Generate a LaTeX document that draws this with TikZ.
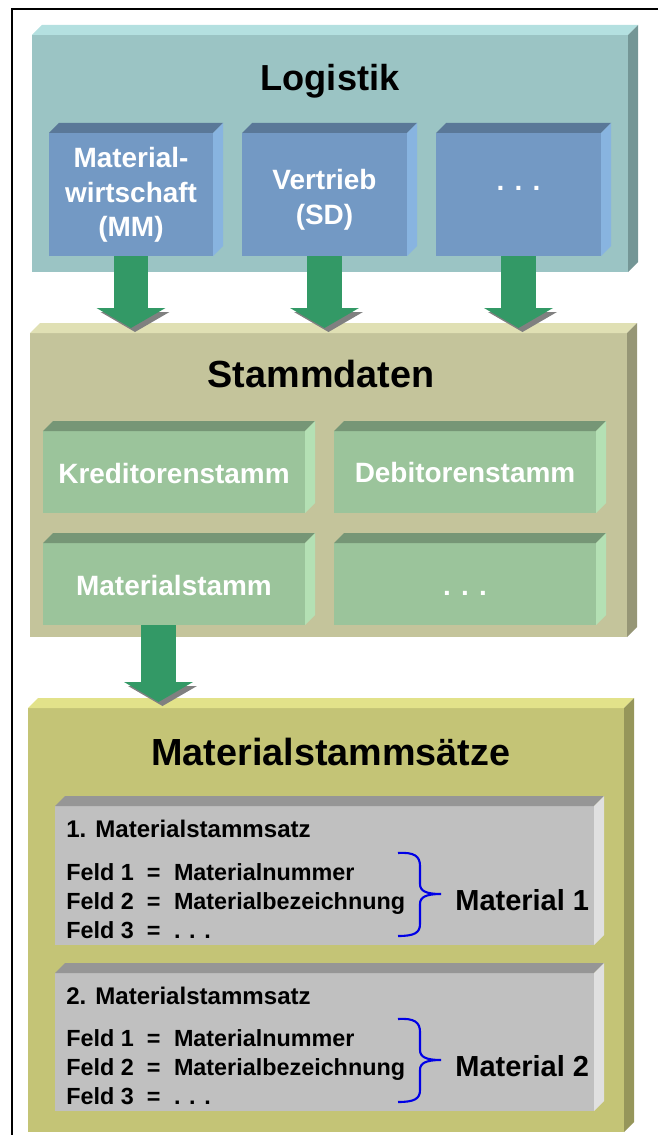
\documentclass[tikz,border=0pt]{standalone}
\usepackage{fontspec}
\setmainfont{Liberation Sans}
\usepackage{tikz}
\usetikzlibrary{calc,positioning,fit}
\usetikzlibrary{arrows.meta}

\definecolor{logfront}{RGB}{155,196,196}
\definecolor{logtop}{RGB}{180,224,224}
\definecolor{logside}{RGB}{116,150,150}
\definecolor{blfront}{RGB}{115,153,196}
\definecolor{bltop}{RGB}{90,120,152}
\definecolor{blside}{RGB}{136,180,224}
\definecolor{stfront}{RGB}{196,196,155}
\definecolor{sttop}{RGB}{224,224,180}
\definecolor{stside}{RGB}{150,150,118}
\definecolor{grfront}{RGB}{155,196,155}
\definecolor{grtop}{RGB}{118,150,118}
\definecolor{grside}{RGB}{180,224,180}
\definecolor{msfront}{RGB}{196,196,118}
\definecolor{mstop}{RGB}{226,226,138}
\definecolor{msside}{RGB}{150,150,90}
\definecolor{recfront}{RGB}{192,192,192}
\definecolor{rectop}{RGB}{150,150,150}
\definecolor{recside}{RGB}{224,224,224}
\definecolor{arrgreen}{RGB}{51,153,102}
\definecolor{arrshadow}{RGB}{128,128,128}
\definecolor{braceblue}{RGB}{0,0,230}

\begin{document}
\begin{tikzpicture}[x=0.02cm, y=-0.02cm]
    \useasboundingbox (0,0) rectangle (658,1135);

    \tikzstyle{face} = [inner sep=0pt, outer sep=0pt, draw=none]
    \tikzstyle{ttl} = [font=\fontsize{21.5}{26}\selectfont\bfseries, anchor=base, inner sep=0pt]
    \tikzstyle{wtext} = [font=\fontsize{15.9}{19.7}\selectfont\bfseries, text=white, align=center, inner sep=0pt]
    \tikzstyle{rtext} = [font=\fontsize{13.7}{16.6}\selectfont\bfseries, anchor=base west, inner sep=0pt]
    \tikzstyle{ftext} = [font=\fontsize{13.3}{16.6}\selectfont\bfseries, anchor=base west, inner sep=0pt]
    \tikzstyle{mtext} = [font=\fontsize{16.5}{20}\selectfont\bfseries, anchor=base west, inner sep=0pt]
    \tikzstyle{bigarrow} = [line width=0.7cm, draw=arrgreen,
        -{Triangle[length=0.4cm, width=1.38cm, line width=0pt]},
        preaction={draw=arrshadow, transform canvas={shift={(4,4)}}}]
    \tikzstyle{brc} = [draw=braceblue, line width=1.2pt]

    % frame
    \draw[line width=0.9pt] (12,1135) -- (12,9) -- (658,9);

    % level0: Logistik
    \node[face, fill=logfront, fit={(32,35) (628,272)}] (log) {};
    \node[face, fill=blfront, fit={(49,133) (213,256)}] (mm) {};
    \node[face, fill=blfront, fit={(242,133) (407,256)}] (sd) {};
    \node[face, fill=blfront, fit={(436,133) (601,256)}] (ld) {};

    % level1: Stammdaten
    \node[face, fill=stfront, fit={(30,333) (627,637)}] (stm) {};
    \node[face, fill=grfront, fit={(43,431) (305,513)}] (kred) {};
    \node[face, fill=grfront, fit={(334,431) (596,513)}] (deb) {};
    \node[face, fill=grfront, fit={(43,543) (305,625)}] (mat) {};
    \node[face, fill=grfront, fit={(334,543) (596,625)}] (sdots) {};

    % level2: Materialstammsaetze
    \node[face, fill=msfront, fit={(28,708) (624,1132)}] (msa) {};
    \node[face, fill=recfront, fit={(55,806) (594,945)}] (rec1) {};
    \node[face, fill=recfront, fit={(55,973) (594,1111)}] (rec2) {};

    % top and side faces
    \foreach \nd/\tp/\sd in {log/logtop/logside, mm/bltop/blside, sd/bltop/blside, ld/bltop/blside,
        stm/sttop/stside, kred/grtop/grside, deb/grtop/grside, mat/grtop/grside, sdots/grtop/grside,
        msa/mstop/msside, rec1/rectop/recside, rec2/rectop/recside} {
      \fill[\tp] (\nd.north west) -- ++(10,-10) -- ([shift={(10,-10)}]\nd.north east) -- (\nd.north east) -- cycle;
      \fill[\sd] (\nd.north east) -- ++(10,-10) -- ([shift={(10,-10)}]\nd.south east) -- (\nd.south east) -- cycle;
    }

    % texts
    \node[ttl, font=\fontsize{20.6}{26}\selectfont\bfseries] (logt) at (330,91) {Logistik};
    \node[wtext] (mmt) at (131,195) {Material-\\wirtschaft\\(MM)};
    \node[wtext] (sdt) at (324.5,200) {Vertrieb\\(SD)};
    \node[wtext, anchor=base] (ldt) at (518.5,191) {. . .};

    \node[ttl] (stmt) at (321,387) {Stammdaten};
    \node[wtext, anchor=base] (kredt) at (174,483) {Kreditorenstamm};
    \node[wtext, anchor=base] (debt) at (465,482) {Debitorenstamm};
    \node[wtext, anchor=base] (matt) at (174,595) {Materialstamm};
    \node[wtext, anchor=base] (sdotst) at (465,595) {. . .};

    \node[ttl] (msat) at (331,765) {Materialstammsätze};

    \node[rtext] (h1) at (66,837) {1. Materialstammsatz};
    \node[ftext] (f1) at (66,880) {\begin{tabular}[t]{@{}l@{\hspace{0.26cm}}c@{\hspace{0.27cm}}l@{}}
        Feld 1 & = & Materialnummer\\ Feld 2 & = & Materialbezeichnung\\ Feld 3 & = & . . .\end{tabular}};
    \node[mtext] (m1) at (455,910) {Material 1};

    \node[rtext] (h2) at (66,1004) {2. Materialstammsatz};
    \node[ftext] (f2) at (66,1046) {\begin{tabular}[t]{@{}l@{\hspace{0.26cm}}c@{\hspace{0.27cm}}l@{}}
        Feld 1 & = & Materialnummer\\ Feld 2 & = & Materialbezeichnung\\ Feld 3 & = & . . .\end{tabular}};
    \node[mtext] (m2) at (455,1076) {Material 2};

    % braces
    \draw[brc] (398,853) .. controls (414,852) and (420,856) .. (420,866) -- (420,884)
        .. controls (420,891) and (426,894) .. (441,894)
        .. controls (426,894) and (420,897) .. (420,904) -- (420,924)
        .. controls (420,933) and (414,936) .. (398,936);
    \draw[brc] (398,1019) .. controls (414,1018) and (420,1022) .. (420,1032) -- (420,1050)
        .. controls (420,1057) and (426,1060) .. (441,1060)
        .. controls (426,1060) and (420,1063) .. (420,1070) -- (420,1090)
        .. controls (420,1099) and (414,1102) .. (398,1102);

    % arrows level0 to level1
    \coordinate (t1) at (131,328);
    \coordinate (t2) at (324.5,328);
    \coordinate (t3) at (518.5,328);
    \draw[bigarrow] (mm.south) -- (t1);
    \draw[bigarrow] (sd.south) -- (t2);
    \draw[bigarrow] (ld.south) -- (t3);

    % arrow level1 to level2
    \coordinate (t4) at (158.5,702);
    \draw[bigarrow] (mat.south -| t4) -- (t4);
\end{tikzpicture}
\end{document}
